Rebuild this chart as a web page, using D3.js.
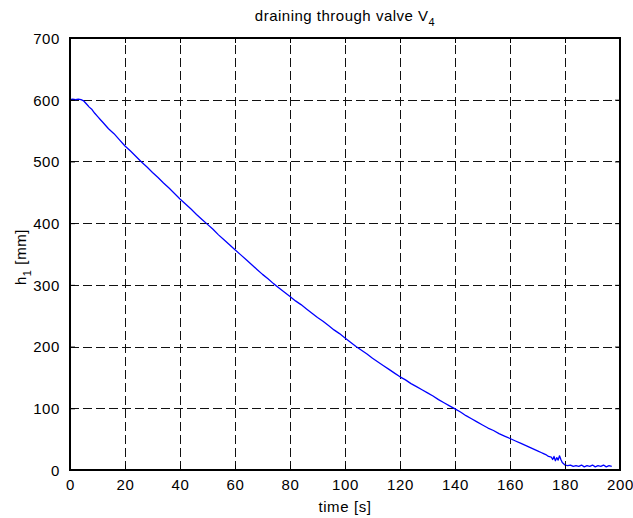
<!DOCTYPE html>
<html>
<head>
<meta charset="utf-8">
<script src="https://cdn.jsdelivr.net/npm/d3@7/dist/d3.min.js"></script>
<style>
  html, body { margin: 0; padding: 0; background: #fff; }
  svg { display: block; }
  text { font-family: "Liberation Sans", Arial, Helvetica, sans-serif; fill: #000; }
</style>
</head>
<body>
<div id="chart"></div>
<script>
// Tank level h1 while draining through valve V4 (sampled measurement)
const timeS = [
  0, 1, 2, 3, 4, 5, 6, 7, 8, 9, 10, 11, 12, 14, 16, 18, 20,
  22, 24, 26, 28, 30, 32, 34, 36, 38, 40,
  42, 44, 46, 48, 50, 52, 54, 56, 58, 60,
  62, 64, 66, 68, 70, 72, 74, 76, 78, 80,
  82, 84, 86, 88, 90, 92, 94, 96, 98, 100,
  102, 104, 106, 108, 110, 112, 114, 116, 118, 120,
  122, 124, 126, 128, 130, 132, 134, 136, 138, 140,
  142, 144, 146, 148, 150, 152, 154, 156, 158, 160,
  162, 164, 166, 168, 170, 171.5, 172, 173, 174, 175,
  175.5, 176, 176.5, 177, 177.5, 178, 178.5, 179, 179.5, 180,
  181, 182, 183, 184, 185, 186, 187, 188, 189, 190,
  191, 192, 193, 194, 195, 196, 197
];
const levelMm = [
  600, 601, 600, 601, 600, 598, 593, 588, 584, 578, 573, 568, 563, 553, 545, 535, 525,
  517, 508, 499, 491, 482, 474, 465, 457, 448, 439,
  431, 423, 414, 406, 398, 390, 381, 373, 365, 357,
  349, 341, 333, 325, 317, 310, 302, 295, 288, 281,
  274, 268, 261, 254, 247, 241, 234, 227, 221, 214,
  207, 200, 194, 188, 181, 175, 169, 163, 157, 151,
  146, 140, 135, 130, 125, 120, 114, 109, 104, 99,
  94, 88, 83, 78, 73, 68, 64, 59, 55, 51,
  47, 43, 39, 35, 31, 28, 27, 25, 22, 21,
  17, 22, 15, 20, 16, 23, 17, 12, 10, 8,
  7, 8, 6, 7, 6, 8, 5, 7, 6, 8,
  5, 7, 6, 8, 5, 7, 6
];
const xTicks = [0, 20, 40, 60, 80, 100, 120, 140, 160, 180, 200];
const yTicks = [0, 100, 200, 300, 400, 500, 600, 700];

const W = 633, H = 518;
const plot = { left: 70, right: 620, top: 38, bottom: 470 };

const svg = d3.select("#chart").append("svg")
  .attr("width", W).attr("height", H);

const x = d3.scaleLinear().domain([0, 200]).range([plot.left, plot.right]);
const y = d3.scaleLinear().domain([0, 700]).range([plot.bottom, plot.top]);

// snap 1px strokes onto the pixel grid
const crisp = v => Math.round(v) + 0.5;

// dashed grid
const grid = svg.append("g").attr("stroke", "#111").attr("stroke-width", 1)
  .attr("stroke-dasharray", "9,4").attr("fill", "none");
grid.selectAll("line.v").data(xTicks.slice(1, -1)).join("line")
  .attr("x1", d => crisp(x(d))).attr("x2", d => crisp(x(d)))
  .attr("y1", plot.bottom).attr("y2", plot.top);
grid.selectAll("line.h").data(yTicks.slice(1, -1)).join("line")
  .attr("x1", plot.left).attr("x2", plot.right)
  .attr("y1", d => crisp(y(d))).attr("y2", d => crisp(y(d)));

// measured level trace
const series = timeS.map((t, i) => ({ t, h: levelMm[i] }));
svg.append("path").datum(series)
  .attr("fill", "none").attr("stroke", "#0000ff").attr("stroke-width", 1.3)
  .attr("stroke-linejoin", "round")
  .attr("d", d3.line().x(d => x(d.t)).y(d => y(d.h)));

// axes with inward ticks (bottom/left labelled, top/right bare)
const tickLen = 5;
const fontPx = "15px";
const axB = svg.append("g").attr("transform", `translate(0,${plot.bottom})`)
  .call(d3.axisBottom(x).tickValues(xTicks).tickSizeInner(-tickLen).tickSizeOuter(0).tickPadding(9));
const axT = svg.append("g").attr("transform", `translate(0,${plot.top})`)
  .call(d3.axisTop(x).tickValues(xTicks).tickSizeInner(-tickLen).tickSizeOuter(0).tickFormat(""));
const axL = svg.append("g").attr("transform", `translate(${plot.left},0)`)
  .call(d3.axisLeft(y).tickValues(yTicks).tickSizeInner(-tickLen).tickSizeOuter(0).tickPadding(10));
const axR = svg.append("g").attr("transform", `translate(${plot.right},0)`)
  .call(d3.axisRight(y).tickValues(yTicks).tickSizeInner(-tickLen).tickSizeOuter(0).tickFormat(""));

[axB, axT, axL, axR].forEach(g => {
  g.select(".domain").remove();
  g.selectAll(".tick line").attr("stroke", "#000").attr("stroke-width", 1);
  g.selectAll(".tick text")
    .attr("font-family", "'Liberation Sans', Arial, Helvetica, sans-serif")
    .attr("font-size", fontPx).attr("letter-spacing", "0.6px").attr("fill", "#000");
});
axB.selectAll(".tick text").attr("dy", "0.71em");
axL.selectAll(".tick text").attr("dy", "0.36em");

// axes box
svg.append("rect")
  .attr("x", plot.left).attr("y", plot.top)
  .attr("width", plot.right - plot.left).attr("height", plot.bottom - plot.top)
  .attr("fill", "none").attr("stroke", "#000").attr("stroke-width", 2);

// title
const title = svg.append("text")
  .attr("x", (plot.left + plot.right) / 2).attr("y", 21)
  .attr("text-anchor", "middle").attr("font-size", "15px").attr("letter-spacing", "0.5px");
title.append("tspan").text("draining through valve V");
title.append("tspan").attr("dy", 5).attr("font-size", "11px").text("4");

// x label
svg.append("text")
  .attr("x", (plot.left + plot.right) / 2).attr("y", 512)
  .attr("text-anchor", "middle").attr("font-size", "15px").attr("letter-spacing", "0.6px")
  .text("time [s]");

// y label
const yl = svg.append("text")
  .attr("transform", `translate(26,${(plot.top + plot.bottom) / 2 + 3}) rotate(-90)`)
  .attr("text-anchor", "middle").attr("font-size", "15px").attr("letter-spacing", "0.6px");
yl.append("tspan").text("h");
yl.append("tspan").attr("dy", 5).attr("font-size", "11px").text("1");
yl.append("tspan").attr("dy", -5).text(" [mm]");
</script>
</body>
</html>
